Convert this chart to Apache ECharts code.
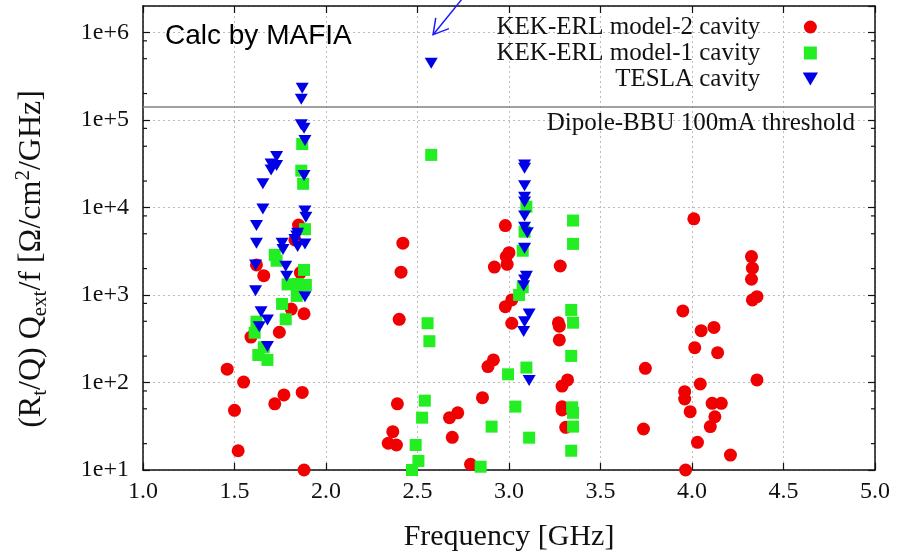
<!DOCTYPE html>
<html><head><meta charset="utf-8">
<script src="https://cdn.jsdelivr.net/npm/echarts@6/dist/echarts.min.js"></script>
<style>html,body{margin:0;padding:0;background:#fff}#c{width:908px;height:551px}</style>
</head><body><div id="c"></div>
<script>
// ---- data (frequency GHz, (Rt/Q)Qext/f) ----
const seriesNames = ['KEK-ERL model-2 cavity', 'KEK-ERL model-1 cavity', 'TESLA cavity'];
const model2 = [
  [1.46,142],[1.55,101],[1.50,48],[1.52,16.6],[1.72,57],[1.77,72],[1.87,77],[1.88,10],
  [1.59,330],[1.745,375],[1.81,690],[1.88,610],[1.85,6300],[1.83,4250],[1.62,2200],[1.66,1660],[1.86,1800],
  [2.42,3900],[2.41,1820],[2.40,527],[2.39,57],[2.365,27.4],[2.34,20.2],[2.385,19.3],
  [2.675,39.6],[2.72,45],[2.69,23.6],[2.79,11.6],[2.855,67],[2.885,152],[2.915,181],
  [2.98,735],[3.015,877],[3.015,475],[2.92,2080],[2.99,2240],[2.985,2740],[3.0,3040],[2.98,6200],
  [3.28,2140],[3.27,480],[3.275,440],[3.275,306],[3.32,107],[3.29,91],[3.29,52.8],[3.29,48.5],[3.31,30.7],
  [4.01,7400],[4.325,2740],[4.33,2020],[4.325,1510],[4.355,955],[4.33,877],[3.95,656],[4.05,391],
  [4.12,426],[4.015,250],[4.14,219],[3.745,145],[4.355,107],[4.045,96],[3.96,78.5],[3.96,64.7],
  [4.11,57.8],[4.16,57.8],[3.99,46.4],[4.125,40.6],[4.10,31.3],[3.735,29.4],[4.03,20.7],[4.21,14.8],[3.965,10]
];
const model1 = [
  [1.87,53000],[1.865,26300],[1.875,18600],[1.885,5640],[1.72,2870],[1.73,2460],[1.88,1930],
  [1.79,1320],[1.845,1335],[1.89,1300],[1.84,975],[1.76,790],[1.78,527],[1.62,495],[1.61,370],
  [1.66,252],[1.63,206],[1.68,181],
  [2.575,39800],[2.555,475],[2.565,296],[2.54,62],[2.525,39.6],[2.49,19.3],[2.505,12.7],[2.47,10],
  [2.845,10.9],[2.905,31.3],[2.995,124],[3.035,53],[3.11,23.4],[3.095,148],[3.055,1000],[3.075,1225],
  [3.075,3200],[3.085,5280],[3.095,10200],
  [3.35,7080],[3.35,3830],[3.34,674],[3.35,482],[3.34,201],[3.35,45],[3.35,31.3],[3.34,16.6],[3.345,52]
];
const tesla = [
  [1.87,230000],[1.865,172000],[1.865,87700],[1.88,80300],[1.885,58000],[1.88,23100],
  [1.73,38100],[1.70,31400],[1.73,30100],[1.70,26800],[1.655,18600],[1.655,9620],[1.885,9120],
  [1.89,7720],[1.62,6200],[1.845,5070],[1.84,4700],[1.83,4300],[1.62,3900],[1.76,3900],[1.845,3570],
  [1.885,3830],[1.765,3310],[1.78,2130],[1.615,2200],[1.785,1640],[1.615,1120],[1.885,955],
  [1.645,644],[1.68,518],[1.635,434],[1.68,257],
  [2.575,445000],
  [3.085,30600],[3.085,28000],[3.085,17700],[3.085,13100],[3.085,11500],[3.085,8000],[3.085,5940],
  [3.10,5150],[3.085,3410],[3.095,1640],[3.085,1480],[3.08,1270],[3.11,607],[3.085,495],[3.08,381],[3.11,105]
];
const thresholdValue = 1.4e5;
const thresholdLabel = 'Dipole-BBU 100mA threshold';
const noteText = 'Calc by MAFIA';
const arrowTip = [2.585, 9.4e5];
const arrowTail = [2.74, 2.35e6];
const xMin = 1.0, xMax = 5.0, xStep = 0.5;
const yMin = 10, yMax = 2e6;
const minorMultipliers = [2, 5, 8];

// ---- build ----
const minorVals = [];
for (let e = 1; e <= 6; e++) for (const m of minorMultipliers) { const v = m * Math.pow(10, e); if (v < yMax) minorVals.push(v); }

const serif = 'Liberation Serif';
const axisLineStyle = {color: '#111', width: 1.5};
const chart = echarts.init(document.getElementById('c'), null, {renderer: 'canvas'});
chart.setOption({
  animation: false,
  backgroundColor: '#fff',
  title: {text: noteText, left: 160, top: 17, textStyle: {fontFamily: 'Liberation Sans', fontSize: 28, fontWeight: 'normal', color: '#000'}},
  grid: {left: 143, right: 33, top: 6, bottom: 81, containLabel: false, outerBoundsMode: 'none'},
  legend: {
    orient: 'vertical', align: 'right', right: 90, top: 14, padding: 0, itemGap: 0,
    itemWidth: 90, itemHeight: 13,
    textStyle: {fontFamily: serif, fontSize: 25, color: '#111', lineHeight: 26},
    data: seriesNames
  },
  xAxis: [{
    type: 'value', min: xMin, max: xMax, interval: xStep, position: 'bottom',
    axisLine: {lineStyle: axisLineStyle},
    axisTick: {inside: true, length: 7, lineStyle: {color: '#111', width: 1.2}},
    axisLabel: {formatter: v => v.toFixed(1), fontFamily: serif, fontSize: 24, color: '#111', margin: 10},
    splitLine: {show: true, lineStyle: {color: '#bbbbbb', type: [2, 3], width: 1}},
    name: 'Frequency [GHz]', nameLocation: 'middle', nameGap: 52,
    nameTextStyle: {fontFamily: serif, fontSize: 30, color: '#111'}
  }, {
    type: 'value', min: xMin, max: xMax, interval: xStep, position: 'top',
    axisLine: {lineStyle: axisLineStyle},
    axisTick: {inside: true, length: 7, lineStyle: {color: '#111', width: 1.2}},
    axisLabel: {show: false}, splitLine: {show: false}
  }],
  yAxis: [{
    type: 'log', logBase: 10, min: yMin, max: yMax, position: 'left',
    axisLine: {show: true, lineStyle: axisLineStyle},
    axisTick: {inside: true, length: 7, lineStyle: {color: '#111', width: 1.2}},
    axisLabel: {fontFamily: serif, fontSize: 24, color: '#111', margin: 14, showMaxLabel: false,
      formatter: v => '1e+' + Math.round(Math.log10(v))},
    splitLine: {show: true, lineStyle: {color: '#bbbbbb', type: [2, 3], width: 1}},
    name: '(R{s|t}/Q) Q{s|ext}/f [Ω/cm{p|2}/GHz]', nameLocation: 'middle', nameRotate: 90, nameGap: 92,
    nameTextStyle: {fontFamily: serif, fontSize: 32, color: '#111', lineHeight: 38, padding: [0, 42, 0, 0],
      rich: {
        s: {fontFamily: serif, fontSize: 21, color: '#111', lineHeight: 20, verticalAlign: 'bottom'},
        p: {fontFamily: serif, fontSize: 21, color: '#111', lineHeight: 20, verticalAlign: 'top'}
      }}
  }, {
    type: 'log', logBase: 10, min: yMin, max: yMax, position: 'right',
    axisLine: {show: true, lineStyle: axisLineStyle},
    axisTick: {inside: true, length: 7, lineStyle: {color: '#111', width: 1.2}},
    axisLabel: {show: false}, splitLine: {show: false}
  }],
  series: [
    {
      name: seriesNames[0], type: 'scatter', data: model2, symbol: 'circle', symbolSize: 13,
      itemStyle: {color: '#f00000', opacity: 1},
      markLine: {
        silent: true, symbol: 'none', animation: false,
        lineStyle: {color: '#808080', width: 1.6, type: 'solid'},
        label: {show: true, position: 'insideEndBottom', formatter: thresholdLabel, distance: [20, 4],
          fontFamily: serif, fontSize: 25, color: '#111'},
        data: [{yAxis: thresholdValue}]
      }
    },
    {
      name: seriesNames[1], type: 'scatter', data: model1, symbol: 'path://M0,0L10,0L10,10L0,10Z', symbolSize: 12,
      symbolKeepAspect: true,
      itemStyle: {color: '#22ee22', opacity: 1}
    },
    {
      name: seriesNames[2], type: 'scatter', data: tesla, symbol: 'path://M0,0L10,0L5,8.5Z', symbolSize: [13, 11],
      itemStyle: {color: '#0000e6', opacity: 1}
    },
    {
      type: 'custom', silent: true, z: 4, data: minorVals.map(v => [xMin, v]),
      renderItem: (params, api) => {
        const v = api.value(1);
        const L = api.coord([xMin, v]), R = api.coord([xMax, v]);
        return {type: 'group', children: [
          {type: 'line', shape: {x1: L[0], y1: L[1], x2: L[0] + 4, y2: L[1]}, style: {stroke: '#111', lineWidth: 1.2}},
          {type: 'line', shape: {x1: R[0] - 4, y1: R[1], x2: R[0], y2: R[1]}, style: {stroke: '#111', lineWidth: 1.2}}
        ]};
      }
    },
    {
      type: 'custom', silent: true, z: 6, clip: false,
      data: [[arrowTip[0], arrowTip[1], arrowTail[0], arrowTail[1]]],
      encode: {x: [0, 2], y: [1, 3]},
      renderItem: (params, api) => {
        const t = api.coord([api.value(0), api.value(1)]);
        const s = api.coord([api.value(2), api.value(3)]);
        const ang = Math.atan2(s[1] - t[1], s[0] - t[0]);
        const len = 17, spread = 30 * Math.PI / 180;
        const a1 = [t[0] + len * Math.cos(ang - spread), t[1] + len * Math.sin(ang - spread)];
        const a2 = [t[0] + len * Math.cos(ang + spread), t[1] + len * Math.sin(ang + spread)];
        const st = {stroke: '#1a1aff', lineWidth: 1.5, fill: null};
        return {type: 'group', children: [
          {type: 'line', shape: {x1: s[0], y1: s[1], x2: t[0], y2: t[1]}, style: st},
          {type: 'polyline', shape: {points: [a1, t, a2]}, style: st}
        ]};
      }
    }
  ]
});
</script></body></html>
